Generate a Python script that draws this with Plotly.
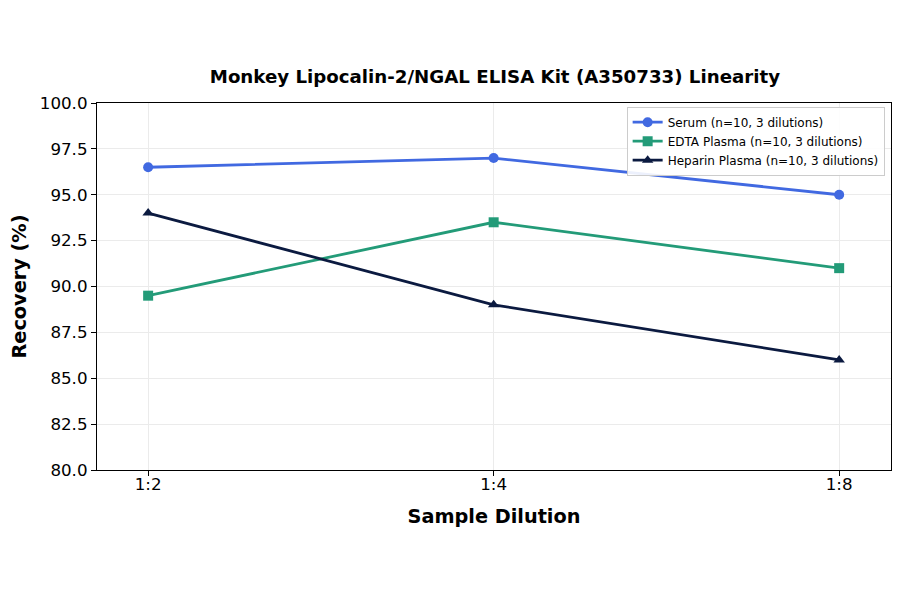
import plotly.graph_objects as go

dilutions = ["1:2", "1:4", "1:8"]
serum = [96.5, 97.0, 95.0]
edta = [89.5, 93.5, 91.0]
heparin = [94.0, 89.0, 86.0]

series = [
    ("Serum (n=10, 3 dilutions)", serum, "#4169E1", "circle"),
    ("EDTA Plasma (n=10, 3 dilutions)", edta, "#239B78", "square"),
    ("Heparin Plasma (n=10, 3 dilutions)", heparin, "#0B1A40", "triangle-up"),
]

fig = go.Figure()
for name, vals, color, sym in series:
    fig.add_trace(go.Scatter(
        x=list(range(len(dilutions))), y=vals, name=name, mode="lines+markers",
        line=dict(color=color, width=2.8),
        marker=dict(color=color, symbol=sym, size=10),
    ))

font = "DejaVu Sans"
fig.update_layout(
    width=900, height=594,
    paper_bgcolor="white", plot_bgcolor="white",
    margin=dict(l=89, r=17, t=95, b=132, autoexpand=False),
    font=dict(family=font, color="black", size=13),
    title=dict(text="<b>Monkey Lipocalin-2/NGAL ELISA Kit (A350733) Linearity</b>",
               x=0.541, xanchor="center", y=0.885, yanchor="middle",
               font=dict(size=18.2)),
    legend=dict(x=0.992, y=0.99, xanchor="right", yanchor="top",
                bgcolor="rgba(255,255,255,0.9)", bordercolor="#cccccc", borderwidth=1,
                font=dict(size=12), tracegroupgap=0, itemwidth=30),
    showlegend=True,
)
fig.update_xaxes(
    tickmode="array", tickvals=list(range(len(dilutions))), ticktext=dilutions,
    range=[-0.148, 2.15], automargin=False,
    title=dict(text="<b>Sample Dilution</b>", font=dict(size=19.3), standoff=16),
    showline=True, linecolor="black", linewidth=1.2, mirror=True,
    ticks="outside", ticklen=5, tickcolor="black", tickfont=dict(size=16.7),
    ticklabelstandoff=-6,
    showgrid=True, gridcolor="#ebebeb", gridwidth=1, zeroline=False,
)
fig.update_yaxes(
    range=[80, 100], dtick=2.5, tickformat=".1f", automargin=False,
    title=dict(text="<b>Recovery (%)</b>", font=dict(size=19.3), standoff=15),
    showline=True, linecolor="black", linewidth=1.2, mirror=True,
    ticks="outside", ticklen=5, tickcolor="black", tickfont=dict(size=16.7),
    showgrid=True, gridcolor="#ebebeb", gridwidth=1, zeroline=False,
)

fig.write_html("out.html")
